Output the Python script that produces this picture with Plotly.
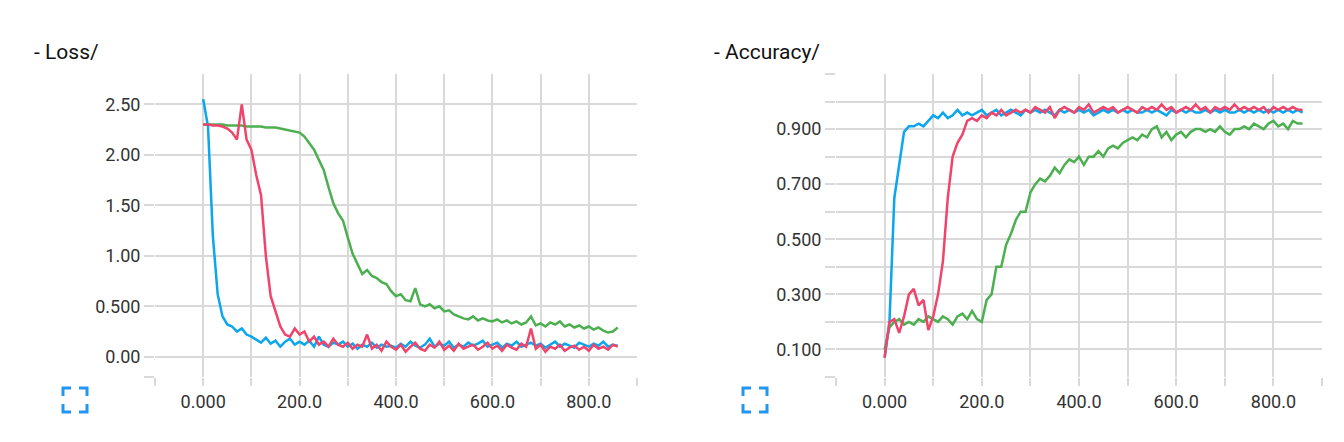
import plotly.graph_objects as go

steps = list(range(0, 870, 10))

loss_blue = [2.55, 2.28, 1.20, 0.62, 0.40, 0.32, 0.30, 0.25, 0.28, 0.22,
             0.20, 0.17, 0.14, 0.19, 0.13, 0.16, 0.10, 0.15, 0.18, 0.12,
             0.15, 0.12, 0.16, 0.10, 0.20, 0.12, 0.10, 0.14, 0.12, 0.15,
             0.10, 0.13, 0.08, 0.12, 0.10, 0.14, 0.09, 0.12, 0.10, 0.11,
             0.09, 0.13, 0.10, 0.15, 0.11, 0.09, 0.12, 0.18, 0.10, 0.13,
             0.11, 0.15, 0.09, 0.12, 0.10, 0.14, 0.11, 0.13, 0.16, 0.10,
             0.12, 0.14, 0.09, 0.13, 0.11, 0.15, 0.10, 0.12, 0.14, 0.11,
             0.13, 0.09, 0.12, 0.15, 0.10, 0.13, 0.11, 0.09, 0.14, 0.12,
             0.10, 0.13, 0.11, 0.15, 0.10, 0.12, 0.11]
loss_red = [2.30, 2.30, 2.29, 2.29, 2.28, 2.26, 2.22, 2.15, 2.50, 2.15,
            2.05, 1.80, 1.60, 1.00, 0.60, 0.45, 0.30, 0.22, 0.20, 0.28,
            0.22, 0.25, 0.15, 0.20, 0.12, 0.15, 0.10, 0.18, 0.12, 0.10,
            0.14, 0.08, 0.12, 0.10, 0.22, 0.08, 0.12, 0.06, 0.15, 0.10,
            0.07, 0.12, 0.05, 0.10, 0.14, 0.08, 0.06, 0.12, 0.09, 0.15,
            0.07, 0.11, 0.06, 0.13, 0.08, 0.10, 0.12, 0.07, 0.10, 0.14,
            0.08, 0.11, 0.06, 0.12, 0.09, 0.07, 0.13, 0.10, 0.28, 0.08,
            0.12, 0.05, 0.10, 0.08, 0.12, 0.06, 0.09, 0.11, 0.07, 0.10,
            0.06, 0.12, 0.08, 0.10, 0.07, 0.12, 0.10]
loss_green = [2.30, 2.30, 2.30, 2.30, 2.30, 2.29, 2.29, 2.29, 2.29, 2.28,
              2.28, 2.28, 2.28, 2.27, 2.27, 2.27, 2.26, 2.25, 2.24, 2.23,
              2.22, 2.18, 2.12, 2.05, 1.95, 1.85, 1.68, 1.52, 1.42, 1.35,
              1.18, 1.02, 0.92, 0.82, 0.86, 0.80, 0.78, 0.74, 0.72, 0.65,
              0.60, 0.62, 0.56, 0.55, 0.68, 0.52, 0.50, 0.52, 0.48, 0.50,
              0.45, 0.46, 0.42, 0.40, 0.38, 0.37, 0.40, 0.36, 0.38, 0.36,
              0.35, 0.37, 0.34, 0.36, 0.33, 0.35, 0.32, 0.34, 0.40, 0.31,
              0.33, 0.30, 0.34, 0.32, 0.35, 0.30, 0.32, 0.29, 0.31, 0.28,
              0.30, 0.27, 0.29, 0.26, 0.24, 0.25, 0.29]

acc_blue = [0.07, 0.20, 0.65, 0.78, 0.89, 0.91, 0.91, 0.92, 0.91, 0.93,
            0.95, 0.94, 0.96, 0.94, 0.95, 0.97, 0.95, 0.96, 0.95, 0.96,
            0.97, 0.95, 0.96, 0.97, 0.95, 0.96, 0.97, 0.96, 0.95, 0.97,
            0.96, 0.97, 0.96, 0.97, 0.96, 0.95, 0.97, 0.96, 0.97, 0.96,
            0.97, 0.96, 0.97, 0.95, 0.96, 0.97, 0.96, 0.97, 0.96, 0.97,
            0.96, 0.97, 0.96, 0.96, 0.97, 0.96, 0.97, 0.96, 0.95, 0.97,
            0.96, 0.97, 0.96, 0.97, 0.96, 0.96, 0.97, 0.96, 0.97, 0.96,
            0.97, 0.96, 0.96, 0.97, 0.96, 0.97, 0.96, 0.97, 0.96, 0.97,
            0.96, 0.97, 0.96, 0.97, 0.96, 0.97, 0.96]
acc_red = [0.07, 0.20, 0.21, 0.16, 0.22, 0.30, 0.32, 0.26, 0.28, 0.17,
           0.22, 0.30, 0.42, 0.65, 0.80, 0.85, 0.88, 0.93, 0.94, 0.93,
           0.95, 0.94, 0.96, 0.95, 0.97, 0.95, 0.96, 0.97, 0.96, 0.97,
           0.96, 0.98, 0.97, 0.96, 0.98, 0.94, 0.97, 0.98, 0.97, 0.96,
           0.98, 0.97, 0.99, 0.96, 0.97, 0.98, 0.97, 0.98, 0.96, 0.97,
           0.98, 0.97, 0.96, 0.98, 0.97, 0.98, 0.97, 0.99, 0.97, 0.98,
           0.96, 0.97, 0.98, 0.97, 0.99, 0.97, 0.98, 0.96, 0.98, 0.97,
           0.98, 0.97, 0.99, 0.97, 0.98, 0.97, 0.98, 0.97, 0.98, 0.96,
           0.98, 0.97, 0.98, 0.97, 0.98, 0.97, 0.97]
acc_green = [0.10, 0.18, 0.20, 0.21, 0.19, 0.20, 0.19, 0.21, 0.20, 0.22,
             0.21, 0.20, 0.22, 0.21, 0.19, 0.22, 0.23, 0.21, 0.24, 0.21,
             0.20, 0.28, 0.30, 0.40, 0.40, 0.48, 0.52, 0.57, 0.60, 0.60,
             0.67, 0.70, 0.72, 0.71, 0.73, 0.76, 0.74, 0.77, 0.79, 0.78,
             0.80, 0.77, 0.80, 0.80, 0.82, 0.80, 0.83, 0.84, 0.83, 0.85,
             0.86, 0.87, 0.86, 0.88, 0.87, 0.90, 0.91, 0.87, 0.89, 0.86,
             0.88, 0.89, 0.87, 0.89, 0.90, 0.90, 0.89, 0.90, 0.89, 0.91,
             0.89, 0.88, 0.90, 0.90, 0.91, 0.90, 0.92, 0.91, 0.90, 0.92,
             0.93, 0.91, 0.92, 0.90, 0.93, 0.92, 0.92]

colors = {"blue": "#0aa6ee", "red": "#f0446b", "green": "#4caf50"}
grid = "#d9d9d9"
font = dict(family="Roboto, Liberation Sans, sans-serif", size=18, color="#333333")
title_font = dict(family="Roboto, Liberation Sans, sans-serif", size=21, color="#111111")

fig = go.Figure()
for name, ys in [("green", loss_green), ("blue", loss_blue), ("red", loss_red)]:
    fig.add_trace(go.Scatter(x=steps, y=ys, mode="lines", xaxis="x", yaxis="y",
                             line=dict(color=colors[name], width=2.5), showlegend=False))
for name, ys in [("green", acc_green), ("blue", acc_blue), ("red", acc_red)]:
    fig.add_trace(go.Scatter(x=steps, y=ys, mode="lines", xaxis="x2", yaxis="y2",
                             line=dict(color=colors[name], width=2.5), showlegend=False))

xticks = list(range(-100, 1000, 100))
xtext = ["" if v % 200 or v < 0 else ("0.000" if v == 0 else f"{v:.1f}") for v in xticks]
acc_ticks = [round(0.1 * i, 1) for i in range(0, 12)]
acc_text = [f"{v:.3f}" if i % 2 == 1 and i < 10 else "" for i, v in enumerate(acc_ticks)]
loss_ticks = [0, 0.5, 1.0, 1.5, 2.0, 2.5]
loss_text = ["0.00", "0.500", "1.00", "1.50", "2.00", "2.50"]

xcommon = dict(range=[-100, 900], tickvals=xticks, ticktext=xtext, showgrid=True,
               gridcolor=grid, gridwidth=2, zeroline=False, ticks="outside",
               ticklen=8, tickcolor=grid, tickwidth=2, tickfont=font, showline=False)
fig.update_layout(
    width=1344, height=442, plot_bgcolor="white", paper_bgcolor="white",
    margin=dict(l=0, r=0, t=66, b=73),
    xaxis=dict(domain=[147 / 1344, 629 / 1344], anchor="y", **xcommon),
    xaxis2=dict(domain=[828 / 1344, 1314 / 1344], anchor="y2", **xcommon),
    yaxis=dict(range=[-0.2, 2.8], tickvals=[-0.2] + loss_ticks, ticktext=[""] + loss_text,
               showgrid=True, gridcolor=grid, gridwidth=2, zeroline=False,
               ticks="outside", ticklen=10, tickcolor=grid, tickwidth=2, tickfont=font, anchor="x"),
    yaxis2=dict(range=[0, 1.1], tickvals=acc_ticks, ticktext=acc_text,
                showgrid=True, gridcolor=grid, gridwidth=2, zeroline=False,
                ticks="outside", ticklen=10, tickcolor=grid, tickwidth=2, tickfont=font, anchor="x2"),
    annotations=[
        dict(text="- Loss/", x=24 / 1344, y=1, yref="paper", xref="paper", yshift=36,
             showarrow=False, xanchor="left", font=title_font),
        dict(text="- Accuracy/", x=704 / 1344, y=1, yref="paper", xref="paper", yshift=36,
             showarrow=False, xanchor="left", font=title_font),
    ],
)

# fullscreen icons (blue corner brackets)
shapes = []
for x0 in (55, 735):
    y0, s, c = 380, 24, 8
    for px, py, dx, dy in [(x0, y0, 1, 1), (x0 + s, y0, -1, 1), (x0, y0 + s, 1, -1), (x0 + s, y0 + s, -1, -1)]:
        fx = lambda v: v / 1344
        fy = lambda v: (442 - 73 - v) / (442 - 66 - 73)
        shapes.append(dict(type="path", xref="paper", yref="paper",
                           path=f"M {fx(px + dx * c)} {fy(py)} L {fx(px)} {fy(py)} L {fx(px)} {fy(py + dy * c)}",
                           line=dict(color="#2196f3", width=3)))
fig.update_layout(shapes=shapes)

fig.write_html("out.html")
